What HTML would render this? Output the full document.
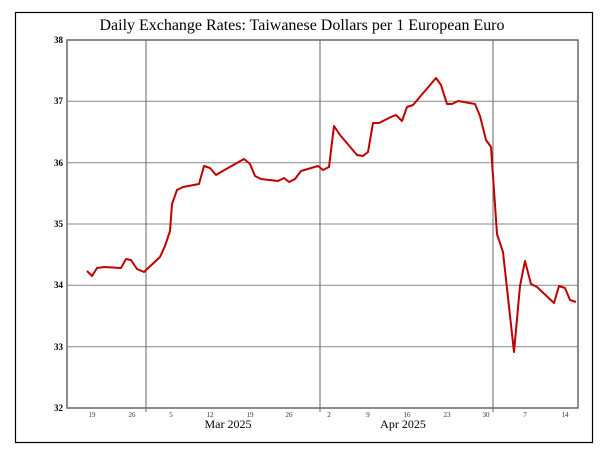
<!DOCTYPE html>
<html><head><style>body{margin:0;background:#fff}</style></head><body>
<svg width="600" height="452" xmlns="http://www.w3.org/2000/svg" font-family="Liberation Serif, serif">
<rect x="0" y="0" width="600" height="452" fill="#fff"/>
<rect x="15.5" y="12.5" width="577" height="430" fill="none" stroke="#000" stroke-width="1.2"/>
<text x="302" y="30" text-anchor="middle" font-size="16" textLength="405" lengthAdjust="spacingAndGlyphs">Daily Exchange Rates: Taiwanese Dollars per 1 European Euro</text>
<g stroke="#888" stroke-width="1">
<line x1="67" y1="101.3" x2="578" y2="101.3"/><line x1="67" y1="162.7" x2="578" y2="162.7"/>
<line x1="67" y1="224" x2="578" y2="224"/><line x1="67" y1="285.3" x2="578" y2="285.3"/>
<line x1="67" y1="346.7" x2="578" y2="346.7"/>
</g>
<g stroke="#666" stroke-width="1">
<line x1="146" y1="40" x2="146" y2="412"/><line x1="320" y1="40" x2="320" y2="412"/><line x1="493" y1="40" x2="493" y2="412"/>
</g>
<rect x="67" y="40" width="511" height="368" fill="none" stroke="#666" stroke-width="1.5"/>
<g font-size="9" font-weight="bold" text-anchor="end">
<text x="63" y="43">38</text><text x="63" y="104">37</text><text x="63" y="166">36</text>
<text x="63" y="227">35</text><text x="63" y="288">34</text><text x="63" y="350">33</text><text x="63" y="411">32</text>
</g>
<g font-size="7" text-anchor="middle" fill="#333">
<text x="92" y="417">19</text><text x="132" y="417">26</text><text x="171" y="417">5</text><text x="210" y="417">12</text>
<text x="250" y="417">19</text><text x="289" y="417">26</text><text x="329" y="417">2</text><text x="368" y="417">9</text>
<text x="407" y="417">16</text><text x="447" y="417">23</text><text x="486" y="417">30</text><text x="525" y="417">7</text><text x="565" y="417">14</text>
</g>
<g font-size="12" text-anchor="middle"><text x="228" y="428">Mar 2025</text><text x="403" y="428">Apr 2025</text></g>
<polyline fill="none" stroke="#c00000" stroke-width="2" stroke-linejoin="round" points="87,271 92,276 97,268 104,267 121,268 126,259 131,260 137,269 144,272 160,257 165,246 170,231 172,204 177,190 183,187 199,184 204,166 210,168 216,175 221,172 228,168 244,159 250,164 255,176 261,179 278,181 284,178 289,182 295,179 301,171 318,166 323,170 329,167 334,126 340,135 357,155 363,156 368,152 373,123 379,123 391,117 396,115 402,121 407,107 413,105 436,78 441,85 447,104 452,104 458,101 475,104 480,116 486,140 491,147 497,234 503,252 514,352 520,286 525,261 531,284 537,287 554,303 559,286 565,288 570,300 576,302"/>
</svg>
</body></html>
